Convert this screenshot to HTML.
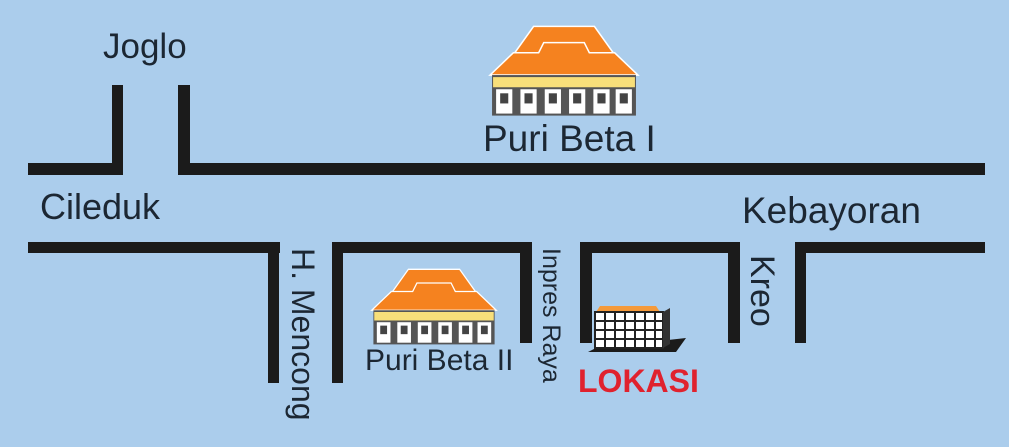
<!DOCTYPE html>
<html><head><style>
body{margin:0;width:1009px;height:447px;background:#abcdec;position:relative;overflow:hidden;font-family:"Liberation Sans",sans-serif;color:#1c2733}
.r{position:absolute;background:#1b1b1b}
.t{position:absolute;white-space:nowrap;line-height:1}
.v{position:absolute;white-space:nowrap;line-height:1;transform-origin:0 0;transform:rotate(90deg)}
</style></head><body>
<div class="r" style="left:28px;top:163px;width:95px;height:12px"></div>
<div class="r" style="left:112px;top:85px;width:11px;height:90px"></div>
<div class="r" style="left:178px;top:85px;width:12px;height:90px"></div>
<div class="r" style="left:178px;top:163px;width:807px;height:12px"></div>
<div class="r" style="left:28px;top:242px;width:252px;height:11px"></div>
<div class="r" style="left:268px;top:242px;width:11px;height:141px"></div>
<div class="r" style="left:332px;top:242px;width:200px;height:11px"></div>
<div class="r" style="left:332px;top:242px;width:11px;height:141px"></div>
<div class="r" style="left:520px;top:242px;width:12px;height:101px"></div>
<div class="r" style="left:580px;top:242px;width:160px;height:11px"></div>
<div class="r" style="left:580px;top:242px;width:12px;height:101px"></div>
<div class="r" style="left:728px;top:242px;width:12px;height:101px"></div>
<div class="r" style="left:795px;top:242px;width:190px;height:11px"></div>
<div class="r" style="left:795px;top:242px;width:11px;height:101px"></div>

<svg width="0" height="0" style="position:absolute"><defs>
<g id="h">
<polygon points="45,2 105,2 125,30 25,30" fill="#f5821f" stroke="#fff" stroke-width="1.5"/>
<polygon points="25,28 50,28 55,18 95,18 100,28 125,28 148,50 2,50" fill="#f5821f" stroke="#fff" stroke-width="1.5"/>
<rect x="4" y="50" width="142" height="40" fill="#555"/>
<polygon points="5,52 145,52 145,62 5,62" fill="#f8df7a"/>
<g fill="#fff"><rect x="8" y="64" width="16" height="24"/><rect x="32" y="64" width="16" height="24"/><rect x="56" y="64" width="16" height="24"/><rect x="80" y="64" width="16" height="24"/><rect x="104" y="64" width="16" height="24"/><rect x="126" y="64" width="16" height="24"/></g>
<g fill="#444"><rect x="12" y="68" width="8" height="10"/><rect x="36" y="68" width="8" height="10"/><rect x="60" y="68" width="8" height="10"/><rect x="84" y="68" width="8" height="10"/><rect x="108" y="68" width="8" height="10"/><rect x="130" y="68" width="8" height="10"/></g>
</g></defs></svg>
<svg style="position:absolute;left:488px;top:24px" width="152" height="92" viewBox="0 0 150 90"><use href="#h"/></svg>
<svg style="position:absolute;left:370px;top:266px" width="128" height="80" viewBox="0 0 150 90"><use href="#h"/></svg>
<svg style="position:absolute;left:588px;top:304px" width="100" height="50" viewBox="0 0 100 50">
<polygon points="8,44 98,34 88,48 0,48" fill="#1b1b1b"/>
<polygon points="8,8 12,2 68,2 72,8" fill="#f59a3a"/>
<rect x="7" y="8" width="68" height="36" fill="#fff" stroke="#222" stroke-width="2"/>
<g stroke="#222" stroke-width="2"><line x1="7" y1="17" x2="75" y2="17"/><line x1="7" y1="26" x2="75" y2="26"/><line x1="7" y1="35" x2="75" y2="35"/>
<line x1="17" y1="8" x2="17" y2="44"/><line x1="27" y1="8" x2="27" y2="44"/><line x1="37" y1="8" x2="37" y2="44"/><line x1="47" y1="8" x2="47" y2="44"/><line x1="57" y1="8" x2="57" y2="44"/><line x1="67" y1="8" x2="67" y2="44"/></g>
<polygon points="75,8 82,4 82,40 75,44" fill="#333"/>
</svg>

<div class="t" style="left:103px;top:29px;font-size:35px">Joglo</div>
<div class="t" style="left:40px;top:189px;font-size:36px">Cileduk</div>
<div class="t" style="left:742px;top:192px;font-size:37px">Kebayoran</div>
<div class="t" style="left:483px;top:120px;font-size:37px">Puri Beta I</div>
<div class="t" style="left:365px;top:346px;font-size:30px">Puri Beta II</div>
<div class="v" style="left:319px;top:248px;font-size:32px">H. Mencong</div>
<div class="v" style="left:563px;top:248px;font-size:25px">Inpres Raya</div>
<div class="v" style="left:779px;top:255px;font-size:34px">Kreo</div>
<div class="t" style="left:578px;top:365px;font-size:32px;font-weight:bold;color:#e0222e">LOKASI</div>
</body></html>
